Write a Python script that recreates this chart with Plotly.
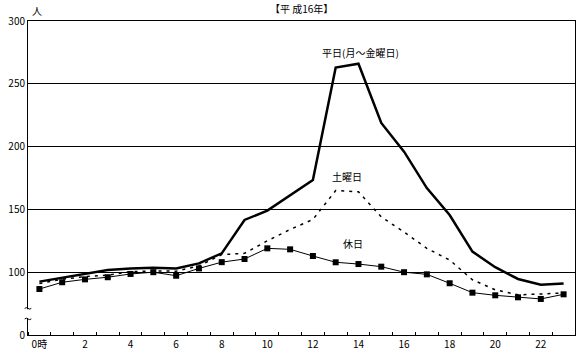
import plotly.graph_objects as go

hours = list(range(24))
tick_hours = [0, 2, 4, 6, 8, 10, 12, 14, 16, 18, 20, 22]
tick_labels = ["0時", "2", "4", "6", "8", "10", "12", "14", "16", "18", "20", "22"]

weekday = [92.5, 95.6, 99, 101.8, 103, 103.6, 103, 107, 115, 141.6, 149, 161,
           173.4, 263, 266, 218.8, 196, 167, 145.5, 116.4, 104, 94.6, 90, 91]
saturday = [91, 94.5, 96.4, 97.7, 100.4, 101, 100.8, 105, 114, 115, 125, 134,
            142, 165, 164, 144, 132, 119, 109.7, 94, 86, 82, 82.6, 83.5]
holiday = [86.6, 92, 94.3, 96, 98.6, 100, 97.2, 103, 108, 110.5, 119, 118.2,
           112.9, 107.9, 106.5, 104.4, 100, 98.3, 91.2, 83.7, 81.6, 80, 78.7, 82.4]

y_tickvals = [50, 100, 150, 200, 250, 300]
y_ticktext = ["0", "100", "150", "200", "250", "300"]

FONT = "Noto Sans CJK JP"

fig = go.Figure()
fig.add_trace(go.Scatter(x=hours, y=weekday, mode="lines",
                         line=dict(color="black", width=2.5), name="平日"))
fig.add_trace(go.Scatter(x=hours, y=saturday, mode="lines",
                         line=dict(color="black", width=1.5, dash="3px,5px"), name="土曜日"))
fig.add_trace(go.Scatter(x=hours, y=holiday, mode="lines+markers",
                         line=dict(color="black", width=1),
                         marker=dict(symbol="square", size=6, color="black"), name="休日"))

fig.update_layout(
    width=582, height=354,
    margin=dict(l=28, r=7, t=21, b=19),
    paper_bgcolor="white", plot_bgcolor="white",
    showlegend=False,
    font=dict(family=FONT, size=10, color="black"),
)
fig.update_xaxes(
    range=[-0.5, 23.5], tickvals=tick_hours, ticktext=tick_labels,
    ticks="", showgrid=False, zeroline=False, automargin=False,
    showline=True, linecolor="black", linewidth=1, mirror=True,
    tickfont=dict(size=10, family=FONT),
    minor=dict(tick0=0.5, dtick=1, ticks="inside", ticklen=3, tickcolor="black", showgrid=False),
)
fig.update_yaxes(
    range=[50, 300], tickvals=y_tickvals, ticktext=y_ticktext,
    ticks="", showgrid=True, gridcolor="black", gridwidth=1, zeroline=False,
    automargin=False,
    showline=True, linecolor="black", linewidth=1, mirror=True,
    tickfont=dict(size=10, family=FONT),
)

# axis break marks
fig.add_shape(type="rect", xref="paper", yref="y", x0=-0.01, x1=0.01, y0=63.5, y1=70.5,
              fillcolor="white", line=dict(width=0))
for yb in (71.2, 62.8):
    fig.add_shape(type="path", xref="paper", yref="y",
                  path=f"M -0.006 {yb} Q -0.003 {yb+1.2} 0 {yb} T 0.006 {yb}",
                  line=dict(color="black", width=1))

annos = [
    dict(x=0.5, y=1.0, xref="paper", yref="paper", text="【平 成16年】", yshift=13),
    dict(x=0, y=300, xref="paper", yref="y", text="人", yshift=11, xshift=2),
    dict(x=14.1, y=275, xref="x", yref="y", text="平日(月～金曜日)"),
    dict(x=13.5, y=176, xref="x", yref="y", text="土曜日"),
    dict(x=13.75, y=123, xref="x", yref="y", text="休日"),
]
for a in annos:
    fig.add_annotation(showarrow=False, yanchor="middle",
                       font=dict(size=10, family=FONT, color="black"), **a)

fig.write_html("out.html")
